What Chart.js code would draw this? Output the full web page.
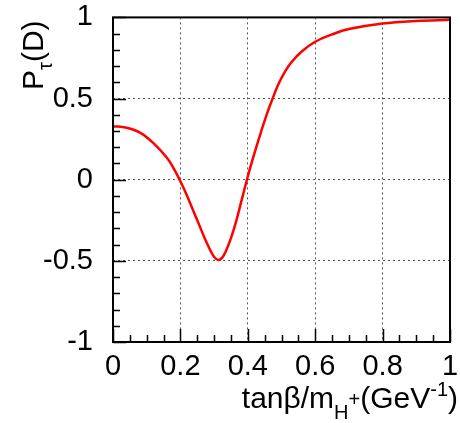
<!DOCTYPE html>
<html lang="en">
<head>
  <meta charset="UTF-8">
  <title>P_tau(D) vs tan(beta)/m_H+</title>
  <script src="https://cdn.jsdelivr.net/npm/chart.js"></script>
  <style>
    body { margin: 0; background: #ffffff; }
    #wrap { width: 460px; height: 423px; }
  </style>
</head>
<body>
  <div id="wrap"><canvas id="polChart"></canvas></div>

  <script>
    const xValues = [0, 0.04, 0.08, 0.12, 0.16, 0.18, 0.2, 0.22, 0.24, 0.26, 0.275, 0.29, 0.3, 0.312, 0.324, 0.335, 0.35, 0.365, 0.38, 0.4, 0.42, 0.44, 0.455, 0.47, 0.49, 0.51, 0.53, 0.56, 0.6, 0.65, 0.7, 0.8, 0.9, 1.0];
    const pTau = [0.33, 0.32, 0.29, 0.225, 0.135, 0.07, -0.01, -0.1, -0.2, -0.3, -0.375, -0.44, -0.475, -0.495, -0.48, -0.44, -0.36, -0.26, -0.14, 0.02, 0.165, 0.3, 0.395, 0.48, 0.585, 0.665, 0.725, 0.79, 0.85, 0.895, 0.928, 0.962, 0.978, 0.985];
    const xTicks = [0, 0.2, 0.4, 0.6, 0.8, 1];
    const yTicks = [-1, -0.5, 0, 0.5, 1];

    const FONT = "'Liberation Sans', Arial, sans-serif";

    // ROOT-like frame with inward ticks + axis titles
    const framePlugin = {
      id: 'frame',
      afterDraw(chart) {
        const ctx = chart.ctx;
        const a = chart.chartArea;
        const xs = chart.scales.x, ys = chart.scales.y;
        ctx.save();
        ctx.strokeStyle = '#000';
        ctx.lineWidth = 2;
        ctx.strokeRect(a.left, a.top, a.right - a.left, a.bottom - a.top);
        ctx.lineWidth = 1.5;
        ctx.beginPath();
        for (let i = 0; i <= 20; i++) {
          const px = Math.round(xs.getPixelForValue(i * 0.05)) + 0.5;
          const len = (i % 4 === 0) ? 13 : 7;
          ctx.moveTo(px, a.bottom);
          ctx.lineTo(px, a.bottom - len);
        }
        for (let i = 0; i <= 20; i++) {
          const py = Math.round(ys.getPixelForValue(-1 + i * 0.1)) + 0.5;
          const len = (i % 5 === 0) ? 13 : 7;
          ctx.moveTo(a.left, py);
          ctx.lineTo(a.left + len, py);
        }
        ctx.stroke();

        ctx.fillStyle = '#000';
        ctx.textBaseline = 'alphabetic';
        const big = '30px ' + FONT, small = '20px ' + FONT;
        // x title
        const parts = [
          ['tanβ/m', big, 0],
          ['H', small, 11],
          ['+', small, -2],
          ['(GeV', big, 0],
          ['-1', small, -12],
          [')', big, 0]
        ];
        let w = 0;
        parts.forEach(p => { ctx.font = p[1]; w += ctx.measureText(p[0]).width; });
        let x = 458 - w;
        parts.forEach(p => {
          ctx.font = p[1];
          ctx.fillText(p[0], x, 408 + p[2]);
          x += ctx.measureText(p[0]).width;
        });

        // y title, rotated
        ctx.translate(43, 90);
        ctx.rotate(-Math.PI / 2);
        const yparts = [
          ['P', big, 0],
          ['τ', small, 9],
          ['(D)', big, 0]
        ];
        x = 0;
        yparts.forEach(p => {
          ctx.font = p[1];
          ctx.fillText(p[0], x, p[2]);
          x += ctx.measureText(p[0]).width;
        });
        ctx.restore();
      }
    };

    new Chart(document.getElementById('polChart'), {
      type: 'line',
      data: {
        datasets: [{
          data: xValues.map((x, i) => ({ x: x, y: pTau[i] })),
          borderColor: '#ff0000',
          borderWidth: 2.5,
          pointRadius: 0,
          tension: 0.4,
          fill: false
        }]
      },
      options: {
        responsive: true,
        maintainAspectRatio: false,
        animation: false,
        events: [],
        layout: { padding: { top: 17, right: 10, left: 0, bottom: 0 } },
        plugins: { legend: { display: false }, tooltip: { enabled: false } },
        scales: {
          x: {
            type: 'linear',
            min: 0, max: 1,
            afterBuildTicks: s => { s.ticks = xTicks.map(v => ({ value: v })); },
            afterFit: s => { s.height = 81; },
            border: { display: false, dash: [2, 3] },
            grid: { color: '#555', drawTicks: true, tickLength: 8, tickColor: 'rgba(0,0,0,0)', lineWidth: 1 },
            ticks: { padding: 0, color: '#000', font: { family: FONT, size: 29 }, maxRotation: 0,
              callback: v => String(v) }
          },
          y: {
            type: 'linear',
            min: -1, max: 1,
            afterBuildTicks: s => { s.ticks = yTicks.map(v => ({ value: v })); },
            afterFit: s => { s.width = 113; },
            border: { display: false, dash: [2, 3] },
            grid: { color: '#555', drawTicks: true, tickLength: 20, tickColor: 'rgba(0,0,0,0)', lineWidth: 1 },
            ticks: { padding: 0, color: '#000', font: { family: FONT, size: 29 },
              callback: v => String(v) }
          }
        }
      },
      plugins: [framePlugin]
    });
  </script>
</body>
</html>
